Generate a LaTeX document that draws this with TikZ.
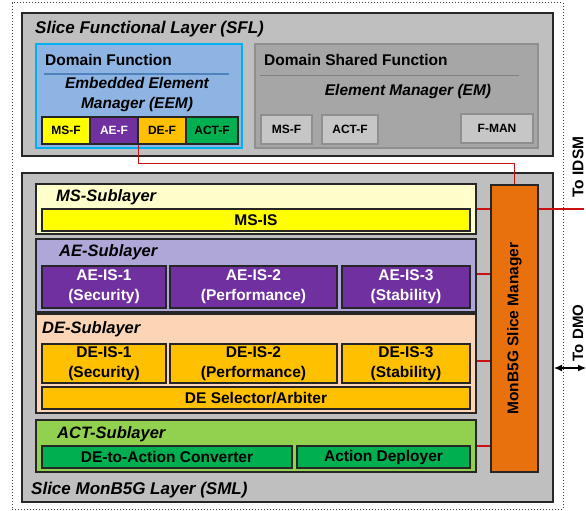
\documentclass[tikz,border=0pt]{standalone}
\usepackage{fontspec}
\setmainfont{Liberation Sans}
\usetikzlibrary{arrows.meta,fit}
\definecolor{sflgray}{HTML}{BFBFBF}
\definecolor{dfblue}{HTML}{8DB4E2}
\definecolor{dfborder}{HTML}{00B0F0}
\definecolor{dfline}{HTML}{4F81BD}
\definecolor{dsfgray}{HTML}{A6A6A6}
\definecolor{dsfborder}{HTML}{8F8F8F}
\definecolor{smallgray}{HTML}{C6C6C6}
\definecolor{msyl}{HTML}{FFFFCC}
\definecolor{msyel}{HTML}{FFFF00}
\definecolor{aelav}{HTML}{AFA7D8}
\definecolor{aepur}{HTML}{7030A0}
\definecolor{depeach}{HTML}{FBD5B5}
\definecolor{deamb}{HTML}{FFC000}
\definecolor{actlg}{HTML}{92D050}
\definecolor{actdg}{HTML}{00B050}
\definecolor{mgrorange}{HTML}{E8710E}
\definecolor{linkred}{HTML}{CC1010}
\definecolor{outline}{HTML}{262626}
\tikzset{
  frame/.style={inner sep=0pt, line width=1.3pt, draw=outline},
  ttl/.style={font=\fontsize{16.5}{20}\selectfont\bfseries\itshape, anchor=west, inner sep=0pt},
  hdr/.style={font=\fontsize{15.5}{19}\selectfont\bfseries, anchor=west, inner sep=0pt},
  itx/.style={font=\fontsize{15.5}{20}\selectfont\bfseries\itshape, align=center, inner sep=0pt},
  btx/.style={font=\fontsize{15.5}{20}\selectfont\bfseries, align=center, inner sep=0pt},
  stx/.style={font=\fontsize{12}{14}\selectfont\bfseries, align=center, inner sep=0pt},
  link/.style={draw=linkred, line width=1.5pt},
}
\begin{document}
\begin{tikzpicture}[x=1pt,y=-1pt]
\useasboundingbox (0,0) rectangle (586,511);
% outer dotted frame
\node[draw=black!75, dotted, line width=1pt, inner sep=0pt, fit={(12,3)(563,509)}] (outer) {};

% ---------- Slice Functional Layer ----------
\node[frame, fill=sflgray, fit={(22,13)(553,156)}] (sfl) {};
\node[ttl, font=\fontsize{17}{20}\selectfont\bfseries\itshape] (sfltitle) at (35,29) {Slice Functional Layer (SFL)};

% Domain Function
\node[inner sep=0pt, line width=1.5pt, draw=dfborder, fill=dfblue, fit={(36,44)(242,148)}] (df) {};
\node[hdr] (dftitle) at (45,60) {Domain Function};
\coordinate (dfl1) at (44,74);
\coordinate (dfl2) at (229,74);
\draw[dfline, line width=1.2pt] (dfl1) -- (dfl2);
\node[itx] (eem) at (137,94) {Embedded Element\\Manager (EEM)};
\node[frame, fill=msyel, fit={(42,117)(90,144)}, label={[stx]center:MS-F}] (msf) {};
\node[frame, fill=aepur, fit={(90,117)(138,144)}, label={[stx, text=white]center:AE-F}] (aef) {};
\node[frame, fill=deamb, fit={(138,117)(186,144)}, label={[stx]center:DE-F}] (def) {};
\node[frame, fill=actdg, fit={(186,117)(238,144)}, label={[stx]center:ACT-F}] (actf) {};

% Domain Shared Function
\node[inner sep=0pt, line width=1.5pt, draw=dsfborder, fill=dsfgray, fit={(255,44)(538,148)}] (dsf) {};
\node[hdr] (dsftitle) at (264,60) {Domain Shared Function};
\coordinate (dsl1) at (260,75);
\coordinate (dsl2) at (519,75);
\draw[black!50, line width=1pt] (dsl1) -- (dsl2);
\node[itx] (em) at (408,91) {Element Manager (EM)};
\node[inner sep=0pt, line width=1.5pt, draw=dsfborder, fill=smallgray, fit={(261,115)(312,144)}, label={[stx]center:MS-F}] (msf2) {};
\node[inner sep=0pt, line width=1.5pt, draw=dsfborder, fill=smallgray, fit={(322,115)(378,144)}, label={[stx]center:ACT-F}] (actf2) {};
\node[inner sep=0pt, line width=1.5pt, draw=dsfborder, fill=smallgray, fit={(461,114)(533,143)}, label={[stx]center:F-MAN}] (fman) {};

% ---------- Slice MonB5G Layer ----------
\node[frame, fill=sflgray, fit={(22,173)(553,502)}] (sml) {};
\node[ttl, font=\fontsize{17}{20}\selectfont\bfseries\itshape] (smltitle) at (31,490) {Slice MonB5G Layer (SML)};

% MS sublayer
\node[frame, fill=msyl, fit={(36,184)(476,234)}] (mssub) {};
\node[ttl] (mstitle) at (56,197) {MS-Sublayer};
\node[frame, fill=msyel, fit={(42,209)(470,231)}, label={[btx]center:MS-IS}] (msis) {};

% AE sublayer
\node[frame, fill=aelav, fit={(36,239)(476,312)}] (aesub) {};
\node[ttl] (aetitle) at (59,252) {AE-Sublayer};
\node[frame, fill=aepur, fit={(42,266)(166,308)}, label={[btx, text=white]center:AE-IS-1\\(Security)}] (aeis1) {};
\node[frame, fill=aepur, fit={(170,266)(337,308)}, label={[btx, text=white]center:AE-IS-2\\(Performance)}] (aeis2) {};
\node[frame, fill=aepur, fit={(342,266)(470,308)}, label={[btx, text=white]center:AE-IS-3\\(Stability)}] (aeis3) {};

% DE sublayer
\node[frame, fill=depeach, fit={(36,314)(476,413)}] (desub) {};
\node[ttl] (detitle) at (42,329) {DE-Sublayer};
\node[frame, fill=deamb, fit={(42,344)(166,383)}, label={[btx]center:DE-IS-1\\(Security)}] (deis1) {};
\node[frame, fill=deamb, fit={(170,344)(337,383)}, label={[btx]center:DE-IS-2\\(Performance)}] (deis2) {};
\node[frame, fill=deamb, fit={(342,344)(470,383)}, label={[btx]center:DE-IS-3\\(Stability)}] (deis3) {};
\node[frame, fill=deamb, fit={(42,387)(470,409)}, label={[btx]center:DE Selector/Arbiter}] (desel) {};

% ACT sublayer
\node[frame, fill=actlg, fit={(36,420)(476,472)}] (actsub) {};
\node[ttl] (acttitle) at (57,434) {ACT-Sublayer};
\node[frame, fill=actdg, fit={(42,446)(292,468)}, label={[btx]center:DE-to-Action Converter}] (deconv) {};
\node[frame, fill=actdg, fit={(297,446)(470,468)}, label={[btx]center:Action Deployer}] (actdep) {};

% Slice manager
\node[frame, fill=mgrorange, fit={(491,185)(538,472)}, label={[btx, rotate=90]center:MonB5G Slice Manager}] (mgr) {};

% ---------- connectors ----------
\draw[link] ([xshift=1pt]def.south west) -- ++(0,19) -| (mgr.north);
\draw[link] (mssub.east) -- (mssub.east -| mgr.west);
\draw[link] ([yshift=1.5pt]aesub.east) -- ([yshift=1.5pt]aesub.east -| mgr.west);
\draw[link] ([yshift=2.5pt]desub.east) -- ([yshift=2.5pt]desub.east -| mgr.west);
\draw[link] (actsub.east) -- (actsub.east -| mgr.west);

\coordinate (idsm) at (584,209);
\draw[link] (mgr.east |- idsm) -- (idsm);
\node[btx, rotate=90] (idsmlabel) at (578,167) {To IDSM};

\coordinate (dmoL) at (554,368);
\coordinate (dmoR) at (586,368);
\draw[black, line width=1.1pt, {Latex[length=8pt,width=7pt]}-{Latex[length=8pt,width=7pt]}] (dmoL) -- (dmoR);
\node[btx, rotate=90, font=\fontsize{15}{18}\selectfont\bfseries] (dmolabel) at (578,333) {To DMO};
\end{tikzpicture}
\end{document}
